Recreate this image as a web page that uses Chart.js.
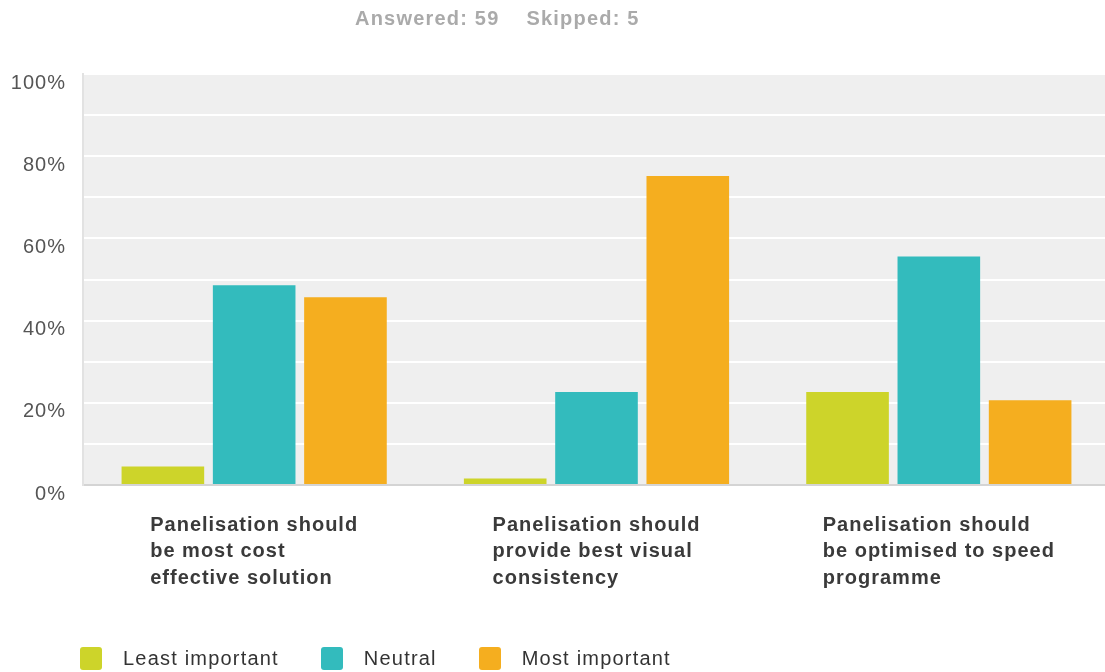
<!DOCTYPE html>
<html>
<head>
<meta charset="utf-8">
<script src="https://cdn.jsdelivr.net/npm/chart.js@4/dist/chart.umd.min.js"></script>
<style>
  html, body { margin: 0; padding: 0; background: #fff; overflow: hidden; }
  body { width: 1105px; height: 672px; position: relative; font-family: "Liberation Sans", Arial, sans-serif; }
  #wrap { position: absolute; left: 0; top: 0; width: 1110px; height: 672px; }
  #summary { position: absolute; left: 355px; top: 7px; font-size: 20px; font-weight: bold; color: #aaaaaa; letter-spacing: 1.2px; }
  #summary span { margin-right: 27px; }
  #legend { position: absolute; left: 80px; top: 647px; display: flex; align-items: center; font-size: 20px; color: #333; letter-spacing: 1.2px; }
  .item { display: flex; align-items: center; margin-right: 42px; }
  .swatch { width: 22px; height: 23px; border-radius: 3px; margin-right: 21px; }
</style>
</head>
<body>
<div id="wrap"><canvas id="myChart"></canvas></div>
<div id="summary"><span>Answered: 59</span><span>Skipped: 5</span></div>
<div id="legend"></div>
<script>
// Statements (each label split into its display lines)
const categories = [
  ["Panelisation should", "be most cost", "effective solution"],
  ["Panelisation should", "provide best visual", "consistency"],
  ["Panelisation should", "be optimised to speed", "programme"]
];
const seriesNames = ["Least important", "Neutral", "Most important"];
const seriesColors = ["#cdd42a", "#33bbbd", "#f5ae1f"];

// Percent of respondents per rating
const leastImportant = [4.5, 1.6, 22.6];
const neutral = [48.6, 22.6, 55.6];
const mostImportant = [45.7, 75.2, 20.6];

const yTickLabels = ["0%", "20%", "40%", "60%", "80%", "100%"];

const FONT = "'Liberation Sans', Arial, sans-serif";

// grey plot background + letter spacing for canvas text
const plotBackground = {
  id: "plotBackground",
  beforeUpdate(chart) { chart.ctx.letterSpacing = "1px"; },
  beforeDraw(chart) {
    const { ctx, chartArea } = chart;
    ctx.letterSpacing = "1px";
    ctx.save();
    ctx.fillStyle = "#efefef";
    ctx.fillRect(chartArea.left, chartArea.top, chartArea.right - chartArea.left, chartArea.bottom - chartArea.top);
    ctx.restore();
  }
};

// category labels: lines left-aligned, block centred under each group
const categoryLabels = {
  id: "categoryLabels",
  afterDraw(chart) {
    const { ctx } = chart;
    const xScale = chart.scales.x;
    const base = chart.chartArea.bottom;
    ctx.save();
    ctx.font = "bold 20px " + FONT;
    ctx.letterSpacing = "1px";
    ctx.fillStyle = "#3a3a3a";
    ctx.textAlign = "left";
    ctx.textBaseline = "middle";
    categories.forEach((lines, i) => {
      const cx = xScale.getPixelForTick(i);
      const w = Math.max(...lines.map(l => ctx.measureText(l).width));
      lines.forEach((line, k) => {
        ctx.fillText(line, cx - w / 2, base + 40 + k * 26.5);
      });
    });
    ctx.restore();
  }
};

const datasets = [leastImportant, neutral, mostImportant].map((values, i) => ({
  label: seriesNames[i],
  data: values,
  backgroundColor: seriesColors[i],
  borderWidth: 0,
  categoryPercentage: 0.8,
  barPercentage: 0.905
}));

const ctx = document.getElementById("myChart").getContext("2d");
const myChart = new Chart(ctx, {
  type: "bar",
  data: {
    labels: categories.map(c => c.join(" ")),
    datasets: datasets
  },
  options: {
    responsive: true,
    maintainAspectRatio: false,
    animation: false,
    layout: { padding: { top: 74, right: 0, bottom: 0, left: 0 } },
    plugins: {
      legend: { display: false },
      tooltip: { enabled: false }
    },
    scales: {
      x: {
        grid: { display: false },
        border: { display: true, color: "#d4d4d4", width: 2 },
        ticks: { display: false },
        afterFit(scale) { scale.height = 187; }
      },
      y: {
        min: 0,
        max: 100,
        grid: { color: "#ffffff", lineWidth: 2, drawTicks: false },
        border: { display: true, color: "#e2e2e2", width: 2 },
        ticks: {
          stepSize: 10,
          autoSkip: false,
          padding: 17,
          labelOffset: 9,
          color: "#555555",
          font: { family: FONT, size: 20 },
          callback: (v) => (v % 20 === 0 ? yTickLabels[v / 20] : "")
        },
        afterFit(scale) { scale.width = 83; }
      }
    }
  },
  plugins: [plotBackground, categoryLabels]
});

// legend
const legend = document.getElementById("legend");
seriesNames.forEach((name, i) => {
  const item = document.createElement("div");
  item.className = "item";
  const sw = document.createElement("div");
  sw.className = "swatch";
  sw.style.background = seriesColors[i];
  const txt = document.createElement("span");
  txt.textContent = name;
  item.appendChild(sw);
  item.appendChild(txt);
  legend.appendChild(item);
});
</script>
</body>
</html>
